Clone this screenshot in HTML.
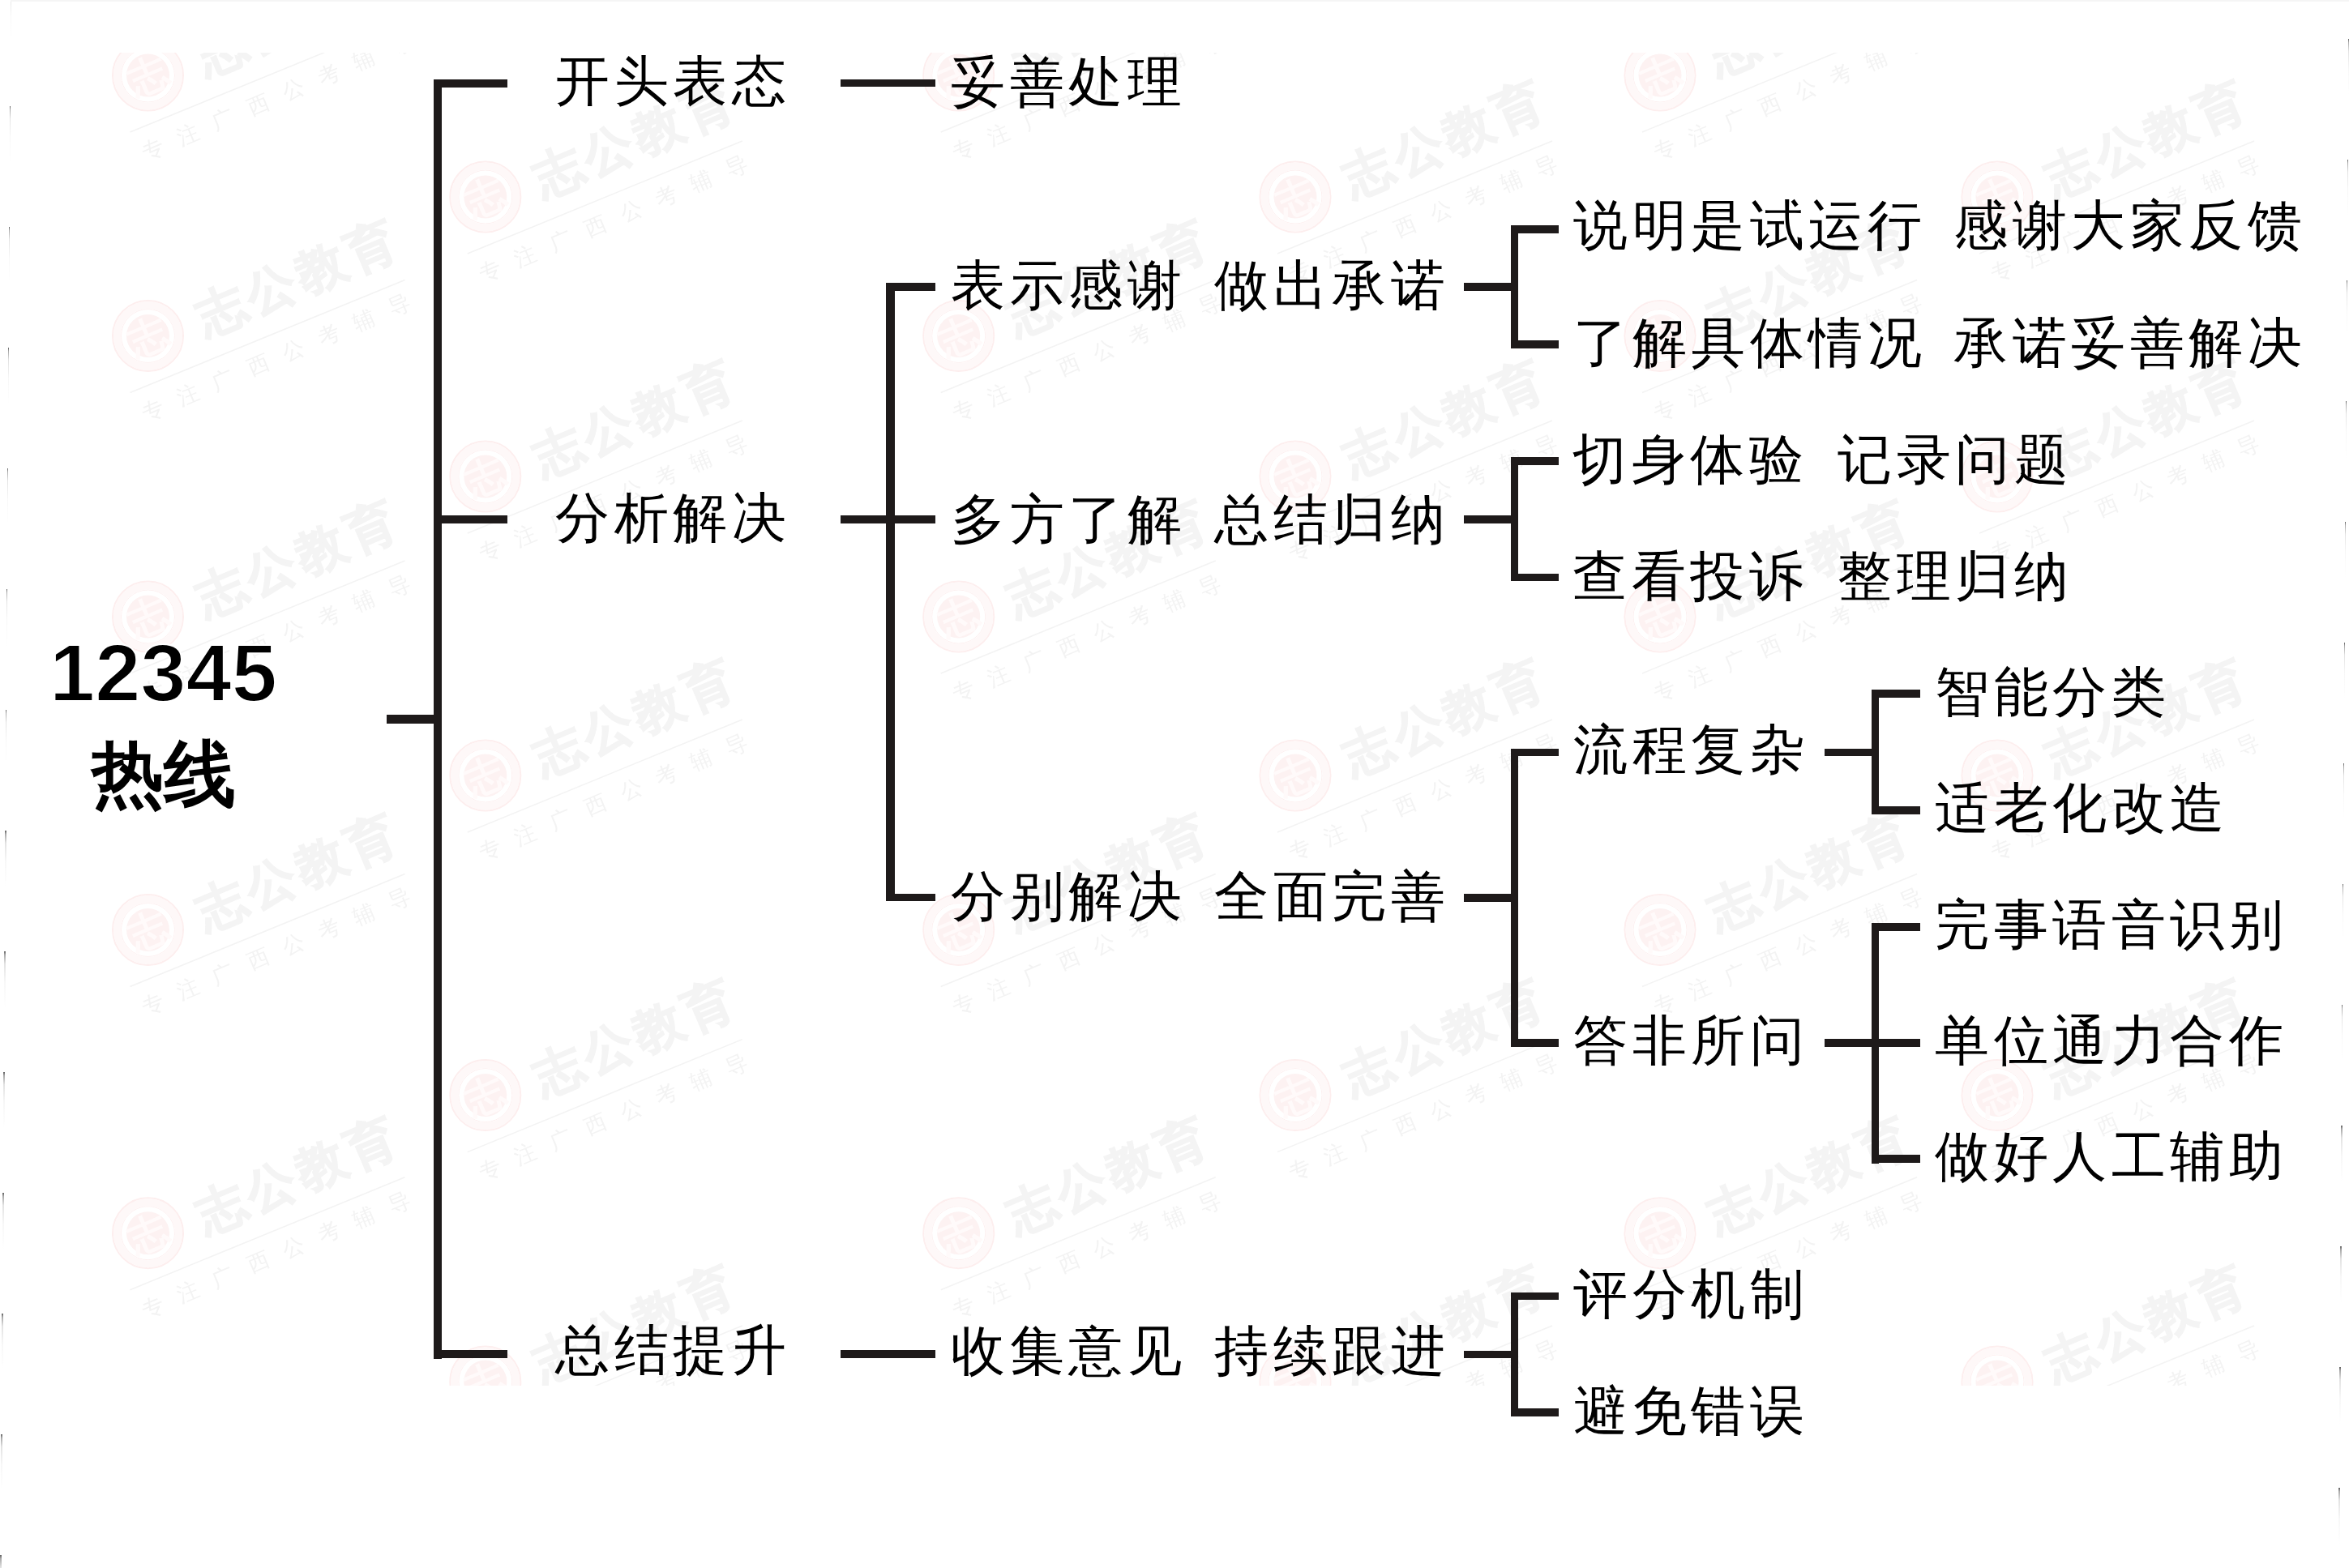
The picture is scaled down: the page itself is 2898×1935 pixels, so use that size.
<!DOCTYPE html>
<html><head><meta charset="utf-8"><style>
html,body{margin:0;padding:0;background:#fff;width:2898px;height:1935px;overflow:hidden;position:relative}
body{font-family:"Liberation Sans",sans-serif;color:#000}
.l{position:absolute;background:#1e1a1a}
.tk{position:absolute;width:1.6px;height:70px;background:linear-gradient(#606060,#a8a8a8 6%,#e2e2e2 22%,rgba(240,240,240,0.5) 55%,rgba(255,255,255,0))}
#top{position:absolute;left:13px;top:0;width:2885px;height:1.5px;background:#f5f5f5}
#wrap{position:absolute;left:0;top:0;width:2898px;height:1935px;filter:blur(0.45px)}
.t{position:absolute;font-size:67px;line-height:100px;white-space:nowrap;letter-spacing:5.5px}
.r1{position:absolute;font-size:101px;line-height:100px;font-weight:bold;white-space:nowrap;-webkit-text-stroke:2px #fff}
.r2{position:absolute;font-size:89px;line-height:100px;font-weight:bold;white-space:nowrap}
</style></head><body><div id="wrap">

<svg style="position:absolute;left:0;top:0" width="2898" height="1935" font-family="Liberation Sans, sans-serif"><defs><clipPath id="c"><rect x="0" y="65" width="2898" height="1645"/></clipPath><g id="u"><circle r="43.5" fill="none" stroke="#fdeeee" stroke-width="2"/><circle r="33" fill="none" stroke="#fdf0f0" stroke-width="1"/><circle r="38" fill="none" stroke="#fef8f8" stroke-width="9"/><circle r="26.5" fill="#fdf2f2"/><text x="0" y="17" text-anchor="middle" font-size="48" font-weight="bold" fill="#fffafa" transform="rotate(-23)">志</text><text x="70" y="0" font-size="61" font-weight="bold" letter-spacing="6" fill="#f4f4f4" stroke="#f4f4f4" stroke-width="1.5" transform="rotate(-23 70 0)">志公教育</text><line x1="-22" y1="70" x2="317" y2="-69" stroke="#f3f3f3" stroke-width="1.5"/><text x="-3" y="105" font-size="27" letter-spacing="20.2" fill="#f3f3f3" transform="rotate(-23 -3 105)">专注广西公考辅导</text></g></defs><g clip-path="url(#c)"><use href="#u" x="182.5" y="93"/><use href="#u" x="182.5" y="414.5"/><use href="#u" x="182.5" y="761"/><use href="#u" x="182.5" y="1147.5"/><use href="#u" x="182.5" y="1521.7"/><use href="#u" x="1182.7" y="93"/><use href="#u" x="1182.7" y="414.5"/><use href="#u" x="1182.7" y="761"/><use href="#u" x="1182.7" y="1147.5"/><use href="#u" x="1182.7" y="1521.7"/><use href="#u" x="2048" y="93"/><use href="#u" x="2048" y="414.5"/><use href="#u" x="2048" y="761"/><use href="#u" x="2048" y="1147.5"/><use href="#u" x="2048" y="1521.7"/><use href="#u" x="598.8" y="243"/><use href="#u" x="598.8" y="588"/><use href="#u" x="598.8" y="957"/><use href="#u" x="598.8" y="1351.6"/><use href="#u" x="598.8" y="1705"/><use href="#u" x="1598" y="243"/><use href="#u" x="1598" y="588"/><use href="#u" x="1598" y="957"/><use href="#u" x="1598" y="1351.6"/><use href="#u" x="1598" y="1705"/><use href="#u" x="2464" y="243"/><use href="#u" x="2464" y="588"/><use href="#u" x="2464" y="957"/><use href="#u" x="2464" y="1351.6"/><use href="#u" x="2464" y="1705"/></g></svg>
<div class="tk" style="left:12.6px;top:-18px"></div><div class="tk" style="left:11.65px;top:131px"></div><div class="tk" style="left:10.7px;top:280px"></div><div class="tk" style="left:9.74px;top:429px"></div><div class="tk" style="left:8.79px;top:578px"></div><div class="tk" style="left:7.84px;top:727px"></div><div class="tk" style="left:6.88px;top:876px"></div><div class="tk" style="left:5.93px;top:1025px"></div><div class="tk" style="left:4.97px;top:1174px"></div><div class="tk" style="left:4.02px;top:1323px"></div><div class="tk" style="left:3.07px;top:1472px"></div><div class="tk" style="left:2.11px;top:1621px"></div><div class="tk" style="left:1.16px;top:1770px"></div><div class="tk" style="left:0.21px;top:1919px"></div><div class="tk" style="left:2896.65px;top:47.5px"></div><div class="tk" style="left:2895.68px;top:196.5px"></div><div class="tk" style="left:2894.71px;top:345.5px"></div><div class="tk" style="left:2893.74px;top:494.5px"></div><div class="tk" style="left:2892.78px;top:643.5px"></div><div class="tk" style="left:2891.81px;top:792.5px"></div><div class="tk" style="left:2890.84px;top:941.5px"></div><div class="tk" style="left:2889.87px;top:1090.5px"></div><div class="tk" style="left:2888.9px;top:1239.5px"></div><div class="tk" style="left:2887.93px;top:1388.5px"></div><div class="tk" style="left:2886.97px;top:1537.5px"></div><div class="tk" style="left:2886px;top:1686.5px"></div><div class="tk" style="left:2885.03px;top:1835.5px"></div>
<div id="top"></div>
<div class="l" style="left:534.5px;top:97.5px;width:10px;height:1579px"></div>
<div class="l" style="left:477px;top:881.5px;width:68px;height:11px"></div>
<div class="l" style="left:534.5px;top:98px;width:91.9px;height:10px"></div>
<div class="l" style="left:534.5px;top:636px;width:91.9px;height:10px"></div>
<div class="l" style="left:534.5px;top:1666.3px;width:91.9px;height:10px"></div>
<div class="l" style="left:1037px;top:97.8px;width:117.2px;height:9.5px"></div>
<div class="l" style="left:1037px;top:636px;width:117.2px;height:9.5px"></div>
<div class="l" style="left:1037px;top:1666.2px;width:117.2px;height:9.5px"></div>
<div class="l" style="left:1093.2px;top:349.2px;width:10.5px;height:762.8px"></div>
<div class="l" style="left:1093px;top:349.1px;width:61.2px;height:9.5px"></div>
<div class="l" style="left:1093px;top:1102.8px;width:61.2px;height:9.5px"></div>
<div class="l" style="left:1805.5px;top:349.1px;width:62.5px;height:9.5px"></div>
<div class="l" style="left:1805.5px;top:636.2px;width:62.5px;height:9.5px"></div>
<div class="l" style="left:1805.5px;top:1103.2px;width:62.5px;height:9.5px"></div>
<div class="l" style="left:1805.5px;top:1666.7px;width:62.5px;height:9.5px"></div>
<div class="l" style="left:1863.5px;top:279px;width:9px;height:150.3px"></div>
<div class="l" style="left:1863.5px;top:278.2px;width:59.2px;height:9.5px"></div>
<div class="l" style="left:1863.5px;top:420.2px;width:59.2px;height:9.5px"></div>
<div class="l" style="left:1863.5px;top:564.2px;width:9px;height:153.1px"></div>
<div class="l" style="left:1863.5px;top:564.2px;width:59.2px;height:9.5px"></div>
<div class="l" style="left:1863.5px;top:707.8px;width:59.2px;height:9.5px"></div>
<div class="l" style="left:1863.5px;top:924px;width:9px;height:368px"></div>
<div class="l" style="left:1863.5px;top:923.6px;width:59.2px;height:9.5px"></div>
<div class="l" style="left:1863.5px;top:1282.2px;width:59.2px;height:9.5px"></div>
<div class="l" style="left:1863.5px;top:1595.5px;width:9px;height:151.8px"></div>
<div class="l" style="left:1863.5px;top:1594.8px;width:59.2px;height:9.5px"></div>
<div class="l" style="left:1863.5px;top:1738.2px;width:59.2px;height:9.5px"></div>
<div class="l" style="left:2251.3px;top:923.5px;width:62.7px;height:9.5px"></div>
<div class="l" style="left:2251.3px;top:1282.2px;width:62.7px;height:9.5px"></div>
<div class="l" style="left:2309.3px;top:851.2px;width:9px;height:153.8px"></div>
<div class="l" style="left:2309.3px;top:1138.9px;width:9px;height:296.7px"></div>
<div class="l" style="left:2309.4px;top:851.2px;width:60.1px;height:9.5px"></div>
<div class="l" style="left:2309.4px;top:995.2px;width:60.1px;height:9.5px"></div>
<div class="l" style="left:2309.4px;top:1139px;width:60.1px;height:9.5px"></div>
<div class="l" style="left:2309.4px;top:1282.2px;width:60.1px;height:9.5px"></div>
<div class="l" style="left:2309.4px;top:1425.2px;width:60.1px;height:9.5px"></div>
<div class="t" style="left:685px;top:49.5px">开头表态</div>
<div class="t" style="left:685px;top:589px">分析解决</div>
<div class="t" style="left:685px;top:1616.4px">总结提升</div>
<div class="t" style="left:1173px;top:50.6px">妥善处理</div>
<div class="t" style="left:1173px;top:302px">表示感谢</div>
<div class="t" style="left:1498px;top:302px">做出承诺</div>
<div class="t" style="left:1173px;top:591px">多方了解</div>
<div class="t" style="left:1498px;top:591px">总结归纳</div>
<div class="t" style="left:1173px;top:1056px">分别解决</div>
<div class="t" style="left:1498px;top:1056px">全面完善</div>
<div class="t" style="left:1173px;top:1617px">收集意见</div>
<div class="t" style="left:1498px;top:1617px">持续跟进</div>
<div class="t" style="left:1941px;top:227.5px">说明是试运行</div>
<div class="t" style="left:2410px;top:227.5px">感谢大家反馈</div>
<div class="t" style="left:1941px;top:373px">了解具体情况</div>
<div class="t" style="left:2410px;top:373px">承诺妥善解决</div>
<div class="t" style="left:1940px;top:517px">切身体验</div>
<div class="t" style="left:2267px;top:517px">记录问题</div>
<div class="t" style="left:1940px;top:661px">查看投诉</div>
<div class="t" style="left:2267px;top:661px">整理归纳</div>
<div class="t" style="left:1941px;top:875px">流程复杂</div>
<div class="t" style="left:1941px;top:1234px">答非所问</div>
<div class="t" style="left:1941px;top:1547px">评分机制</div>
<div class="t" style="left:1941px;top:1691px">避免错误</div>
<div class="t" style="left:2387px;top:804px">智能分类</div>
<div class="t" style="left:2387px;top:947px">适老化改造</div>
<div class="t" style="left:2387px;top:1091px">完事语音识别</div>
<div class="t" style="left:2387px;top:1234px">单位通力合作</div>
<div class="t" style="left:2387px;top:1377px">做好人工辅助</div>
<div class="r1" style="left:61px;top:780px">12345</div>
<div class="r2" style="left:113px;top:905px">热线</div>
</div></body></html>
